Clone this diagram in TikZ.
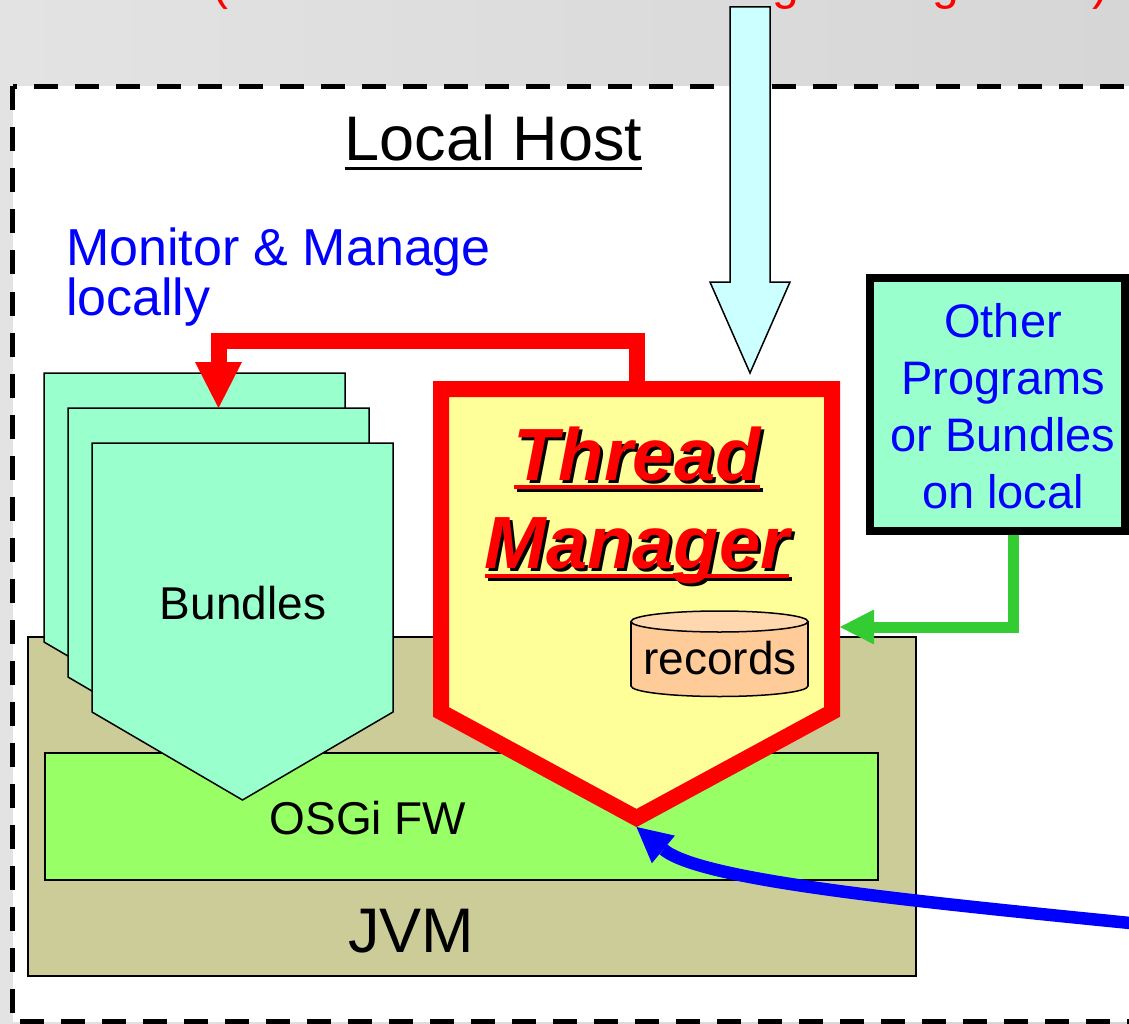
\documentclass[tikz,border=0pt]{standalone}
\usepackage{fontspec}
\setmainfont{Liberation Sans}
\usetikzlibrary{arrows.meta}

\definecolor{bgL}{RGB}{227,227,227}
\definecolor{bgR}{RGB}{214,214,214}
\definecolor{mint}{RGB}{153,255,204}
\definecolor{lemon}{RGB}{255,255,153}
\definecolor{khaki}{RGB}{204,204,153}
\definecolor{lime}{RGB}{153,255,102}
\definecolor{ice}{RGB}{204,255,255}
\definecolor{peach}{RGB}{255,204,153}
\definecolor{peachtop}{RGB}{255,216,176}
\definecolor{leaf}{RGB}{51,204,51}
\definecolor{pureblue}{RGB}{0,0,255}
\definecolor{purered}{RGB}{255,0,0}

\begin{document}
\begin{tikzpicture}[x=1pt, y=-1pt,
  txt/.style={inner sep=0pt, outer sep=0pt},
  hull/.style={draw=none, inner sep=0pt, outer sep=0pt},
  panel/.style={draw=black, line width=1.5pt, inner sep=0pt},
  bundle/.style={draw=black, line width=1.5pt, fill=mint, line join=miter},
  tmfont/.style={txt, anchor=base, font=\fontsize{74pt}{74pt}\selectfont\bfseries\itshape},
  label46/.style={txt, anchor=base, font=\fontsize{46pt}{46pt}\selectfont},
  label63/.style={txt, anchor=base, font=\fontsize{63pt}{63pt}\selectfont}
]
\useasboundingbox (0,0) rectangle (1129,1024);
\begin{scope}
\clip (0,0) rectangle (1129,1024);

% slide background and the dashed host frame
\shade[left color=bgL, right color=bgR] (0,0) rectangle (1129,1024);
\fill[white] (12.5,86.5) rectangle (1170,1022);
\draw[black, line width=5.5pt, dash pattern=on 24pt off 17pt]
  (12.5,86.5) rectangle (1170,1022);

% caption of the remote side
\node[txt, anchor=base west, text=purered, font=\fontsize{48pt}{48pt}\selectfont]
  (remotecap) at (212,0) {(Remote Thread Monitoring Management)};

% host title
\node[label63] (host) at (493.5,161) {Local Host};
\draw[line width=3pt] ([yshift=-8pt]host.base west) -- ([yshift=-8pt]host.base east);

\node[txt, anchor=north west, align=left, text=pureblue,
      font=\fontsize{52pt}{50pt}\selectfont] (mm) at (66,227.5) {Monitor \& Manage\\locally};

% JVM and OSGi framework layers
\node[panel, fill=khaki, minimum width=888pt, minimum height=339pt] (jvm) at (472,806.5) {};
\node[label63] (jvmlbl) at (411,952) {JVM};
\node[panel, fill=lime, minimum width=833pt, minimum height=127pt] (osgi) at (461.5,816.5) {};
\node[label46] (osgilbl) at (368,834) {OSGi FW};

% stacked bundles
\foreach \n/\x/\y in {b1/194.5/507.5, b2/218.5/542.5, b3/242.5/577.5} {
  \node[hull, minimum width=301pt, minimum height=269pt] (\n) at (\x,\y) {};
  \draw[bundle] (\n.north west) -- (\n.north east) -- (\n.south east)
    -- ([yshift=-88pt]\n.south) -- (\n.south west) -- cycle;
}
\node[label46] (bundlbl) at (243,619) {Bundles};

% thread manager
\node[hull, minimum width=391pt, minimum height=323pt] (tm) at (636.5,550.5) {};
\draw[draw=purered, fill=lemon, line width=16pt, line join=miter]
  (tm.north west) -- (tm.north east) -- (tm.south east)
  -- ([yshift=-106pt]tm.south) -- (tm.south west) -- cycle;
\coordinate (tmtip) at ([yshift=-115pt]tm.south);
\coordinate (tmedge) at ([xshift=8pt]tm.east);

\node[tmfont, text=black] (thrS) at (640,483) {Thread};
\node[tmfont, text=black] (mgrS) at (640,571) {Manager};
\draw[line width=4pt] ([yshift=-7pt]thrS.base west) -- ([yshift=-7pt]thrS.base east);
\draw[line width=4pt] ([yshift=-8pt]mgrS.base west) -- ([yshift=-8pt]mgrS.base east);
\node[tmfont, text=purered] (thr) at (637,480) {Thread};
\node[tmfont, text=purered] (mgr) at (637,568) {Manager};
\draw[purered, line width=4pt] ([yshift=-7pt]thr.base west) -- ([yshift=-7pt]thr.base east);
\draw[purered, line width=4pt] ([yshift=-8pt]mgr.base west) -- ([yshift=-8pt]mgr.base east);

% records store
\fill[peach] (631,621.5) rectangle (808,686);
\fill[peach] (719.5,686) ellipse [x radius=88.5pt, y radius=10.5pt];
\begin{scope}
  \clip (620,686) rectangle (820,700);
  \draw[line width=1.5pt] (719.5,686) ellipse [x radius=88.5pt, y radius=10.5pt];
\end{scope}
\draw[line width=1.5pt] (631,621.5) -- (631,686) (808,621.5) -- (808,686);
\draw[line width=1.5pt, fill=peachtop] (719.5,621.5) ellipse [x radius=88.5pt, y radius=10.5pt];
\node[label46] (rec) at (720,674) {records};

% other local programs
\node[draw=black, line width=8pt, fill=mint, inner sep=0pt,
      minimum width=255pt, minimum height=253pt] (other) at (997.5,404.5) {};
\node[txt, anchor=north, align=center, text=pureblue,
      font=\fontsize{47pt}{57pt}\selectfont] (othertxt) at (1003,303)
  {Other\\Programs\\or Bundles\\on local};

% incoming request from above
\coordinate (feed) at (750,7);
\draw[fill=ice, line width=1.5pt, line join=miter]
  ([xshift=-20pt]feed) -- ([xshift=20pt]feed) -- (770,282) -- (790,282)
  -- (750,373) -- (710,282) -- (730,282) -- cycle;

% connectors
\coordinate (rbend) at (0,341);
\draw[purered, line width=16pt, line join=miter,
      -{Triangle[length=46pt,width=47pt,line width=0pt]}]
  (tm.north) -- (tm.north |- rbend) -| (b2.north);

\coordinate (gturn) at (1013,627);
\draw[leaf, line width=11pt, line join=miter,
      -{Triangle[length=34pt,width=35pt,line width=0pt]}]
  ([xshift=15.5pt]other.south) |- (tmedge |- gturn);

\coordinate (remote) at (1140,924);
\draw[pureblue, line width=12.5pt,
      -{Triangle[length=35pt,width=36pt,line width=0pt]}]
  (remote) .. controls (900,900) and (700,880) .. (tmtip);
\end{scope}
\end{tikzpicture}
\end{document}
